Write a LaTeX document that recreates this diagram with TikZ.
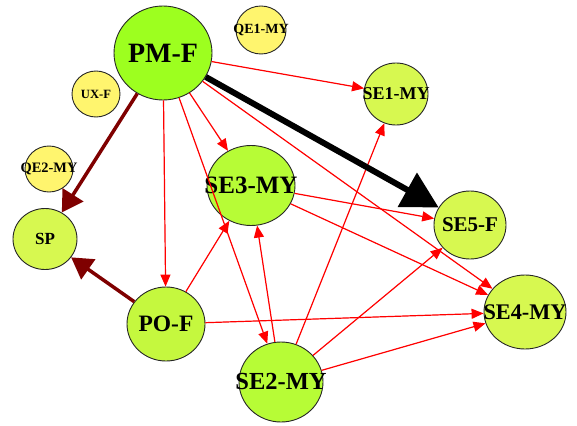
\documentclass[tikz,border=0pt]{standalone}
\usepackage{fontspec}
\setmainfont{Liberation Serif}
\usetikzlibrary{arrows.meta,shapes.geometric}

\definecolor{pmfill}{RGB}{157,255,31}
\definecolor{midfill}{RGB}{183,252,54}
\definecolor{pofill}{RGB}{197,248,62}
\definecolor{lightfill}{RGB}{215,248,80}
\definecolor{yelfill}{RGB}{255,245,110}
\definecolor{darkred}{RGB}{127,0,0}

\tikzset{
  vert/.style={ellipse, draw=black!85, line width=0.9pt, inner sep=0pt,
    font=\bfseries},
  redge/.style={draw=red, line width=1.2pt,
    -{Triangle[length=12pt,width=10pt]}, fill=red},
  dredge/.style={draw=darkred, line width=3.5pt,
    -{Triangle[length=21pt,width=24pt]}},
  bedge/.style={draw=black, line width=6pt,
    -{Triangle[length=36pt,width=38pt]}},
}

% labels may run past the outline, so they take no width in the shape
\newcommand{\vtx}[7]{%
  \node[vert, fill=#5, minimum width=#3pt, minimum height=#4pt,
        font=\bfseries\fontsize{#6}{#6}\selectfont] (#1) at (#2)
        {\makebox[0pt]{#7}};}

\begin{document}
\begin{tikzpicture}[x=1pt,y=-1pt]
\useasboundingbox (0,0) rectangle (577,425);

% vertices: name, centre, width, height, fill, font size, label
\vtx{PMF}{163,53}{98}{94}{pmfill}{28}{PM-F}
\vtx{QE1}{261,30}{50}{48}{yelfill}{14}{QE1-MY}
\vtx{UXF}{96,94}{48}{46}{yelfill}{12.6}{UX-F}
\vtx{QE2}{49,169}{48}{46}{yelfill}{14.4}{QE2-MY}
\vtx{SE3}{251,185.5}{88}{80}{midfill}{25}{SE3-MY}
\vtx{SP}{45,239}{64}{61}{lightfill}{17}{SP}
\vtx{POF}{166,324}{78}{74}{pofill}{23.5}{PO-F}
\vtx{SE2}{281,382}{84}{80}{midfill}{24.5}{SE2-MY}
\vtx{SE1}{396,94}{64}{62}{lightfill}{18}{SE1-MY}
\vtx{SE5}{470,225}{72}{68}{lightfill}{21}{SE5-F}
\vtx{SE4}{525,312}{82}{74}{lightfill}{22.3}{SE4-MY}

% thin red links
\draw[redge] (PMF) -- (SE1);
\draw[redge] (PMF) -- (SE3);
\draw[redge] (PMF) -- (POF);
\draw[redge] (PMF) -- (SE2);
\draw[redge] (PMF) -- (SE4);
\draw[redge] (SE3) -- (SE5);
\draw[redge] (SE3) -- (SE4);
\draw[redge] (POF) -- (SE3);
\draw[redge] (POF) -- (SE4);
\draw[redge] (SE2) -- (SE3);
\draw[redge] (SE2) -- (SE1);
\draw[redge] (SE2) -- (SE5);
\draw[redge] (SE2) -- (SE4);

% heavy links
\draw[dredge] (PMF) -- (SP);
\draw[dredge] (POF) -- (SP);
\draw[bedge] (PMF) -- (SE5);
\end{tikzpicture}
\end{document}
